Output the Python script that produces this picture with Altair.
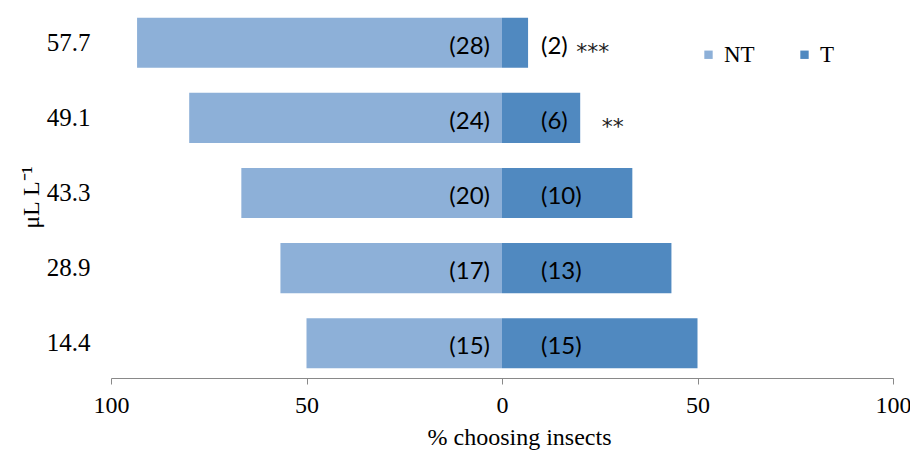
import altair as alt
import pandas as pd

categories = ["57.7", "49.1", "43.3", "28.9", "14.4"]
nt_counts = [28, 24, 20, 17, 15]
t_counts = [2, 6, 10, 13, 15]
stars = ["***", "**", "", "", ""]
star_x = [19.0, 25.5, None, None, None]
series = ["NT", "T"]
colors = ["#8DB0D8", "#5089C0"]

rows = []
for c, n, t in zip(categories, nt_counts, t_counts):
    tot = n + t
    rows.append({"cat": c, "series": "NT", "x0": 0, "x1": -n / tot * 100, "label": f"({n})"})
    rows.append({"cat": c, "series": "T", "x0": 0, "x1": t / tot * 100, "label": f"({t})"})
df = pd.DataFrame(rows)
star_df = pd.DataFrame([{"cat": c, "s": s, "x": x} for c, s, x in zip(categories, stars, star_x) if s])

serif = "Liberation Serif"
ysc = alt.Scale(domain=categories, paddingInner=1/3, paddingOuter=0.13)

bars = alt.Chart(df).mark_bar().encode(
    y=alt.Y("cat:N", scale=ysc, sort=categories,
            axis=alt.Axis(title="μL L⁻¹", domain=False, ticks=False, labelPadding=21,
                          labelFont=serif, labelFontSize=25, labelColor="black",
                          titleFont=serif, titleFontSize=24, titleFontWeight="normal",
                          titleColor="black", titlePadding=3, titleY=189)),
    x=alt.X("x0:Q", scale=alt.Scale(domain=[-100, 100], nice=False),
            axis=alt.Axis(title="% choosing insects", values=[-100, -50, 0, 50, 100],
                          labelExpr="abs(datum.value)", grid=False, domainColor="#898989",
                          tickColor="#898989", tickSize=6, labelFont=serif, labelFontSize=24,
                          labelColor="black", labelFlush=False, labelPadding=9,
                          titleFont=serif, titleFontSize=24, titleFontWeight="normal",
                          titleColor="black", titlePadding=8, titleX=408)),
    x2="x1:Q",
    color=alt.Color("series:N", scale=alt.Scale(domain=series, range=colors),
                    legend=alt.Legend(title=None, orient="none", legendX=586, legendY=35,
                                      direction="horizontal", symbolType="square",
                                      symbolSize=70, symbolStrokeWidth=0,
                                      labelFont=serif, labelFontSize=23, labelColor="black",
                                      columnPadding=38, padding=0)),
)

nt_lab = alt.Chart(df[df.series == "NT"]).mark_text(
    align="right", baseline="middle", dx=-12, dy=4, font="Lato", fontSize=24, color="black"
).encode(y=alt.Y("cat:N", scale=ysc, sort=categories), x=alt.X("x0:Q"), text="label:N")

t_lab = alt.Chart(df[df.series == "T"]).mark_text(
    align="left", baseline="middle", dx=39, dy=4, font="Lato", fontSize=24, color="black"
).encode(y=alt.Y("cat:N", scale=ysc, sort=categories), x=alt.X("x0:Q"), text="label:N")

star_lab = alt.Chart(star_df).mark_text(
    align="left", baseline="middle", dy=9, font="DejaVu Sans", fontSize=22, color="#222222"
).encode(y=alt.Y("cat:N", scale=ysc, sort=categories), x=alt.X("x:Q"), text="s:N")

chart = alt.layer(bars, nt_lab, t_lab, star_lab).properties(
    width=782, height=370,
    autosize=alt.AutoSizeParams(type="none"),
    padding={"left": 103, "top": 0, "right": 17, "bottom": 77},
).configure_view(stroke=None)

chart.save("out.html", embed_options={"renderer": "svg", "actions": False})
